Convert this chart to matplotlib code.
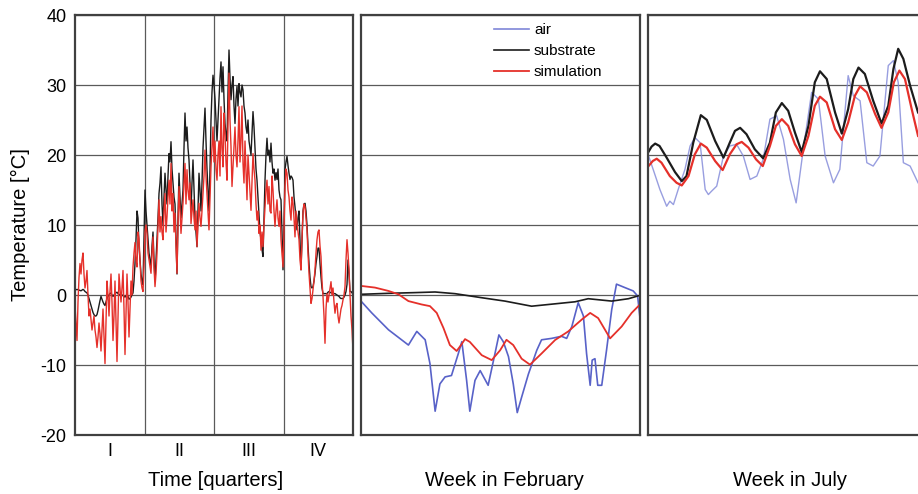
import numpy as np
import matplotlib.pyplot as plt

plt.rcParams['font.family'] = ['Liberation Sans', 'DejaVu Sans']

# --- whole year, substrate and simulated temperature (deg C) ---
substrate_year = [
    0.7, 0.75, 0.8, 0.75, 0.7, 0.65, 0.6, 0.7, 0.8, 0.7,
    0.5, 0.4, 0.3, 0.0, -0.5, -1.0, -1.5, -2.0, -2.5, -2.8,
    -3.0, -3.0, -2.8, -2.2, -1.5, -0.8, -0.2, -0.6, -1.0, -1.3,
    -1.5, -1.0, -0.5, -0.2, 0.0, 0.2, 0.3, 0.0, -0.2, 0.0,
    0.2, 0.3, 0.4, 0.2, 0.0, 0.1, 0.2, 0.0, -0.1, -0.2,
    -0.3, -0.1, 0.1, -0.2, -0.6, -0.5, -0.3, 0.0, 0.3, 2.0,
    4.5, 8.0, 12.0, 11.0, 7.0, 5.0, 3.0, 2.0, 1.5, 8.0,
    15.0, 12.0, 10.0, 8.0, 6.0, 5.0, 4.0, 7.0, 9.0, 5.0,
    2.0, 5.0, 8.0, 11.0, 14.5, 16.0, 18.3, 13.0, 10.0, 14.0,
    17.4, 15.0, 13.0, 17.0, 20.2, 19.0, 21.9, 18.0, 16.0, 14.0,
    13.0, 8.0, 3.0, 11.0, 17.4, 14.0, 11.0, 13.0, 15.0, 21.0,
    26.0, 22.0, 24.0, 21.0, 19.3, 16.0, 12.0, 16.0, 19.3, 15.0,
    11.0, 9.0, 6.9, 12.0, 17.4, 15.0, 12.0, 16.0, 21.0, 24.0,
    26.7, 22.0, 18.0, 15.0, 12.0, 18.0, 25.0, 29.0, 31.4, 30.0,
    28.0, 25.0, 22.0, 25.0, 27.9, 31.0, 33.3, 29.0, 32.6, 28.0,
    24.5, 23.0, 22.0, 29.0, 35.0, 31.0, 27.9, 30.0, 31.2, 27.0,
    24.5, 28.0, 29.8, 27.0, 30.2, 29.0, 28.3, 30.0, 29.3, 27.0,
    26.0, 24.0, 23.1, 25.0, 22.0, 21.0, 20.0, 23.0, 26.2, 24.0,
    21.0, 18.0, 16.4, 14.0, 11.7, 9.0, 7.9, 6.5, 5.5, 11.0,
    16.4, 20.0, 22.4, 20.0, 20.7, 19.0, 21.7, 19.0, 17.4, 18.0,
    16.4, 17.5, 16.5, 18.0, 15.0, 14.0, 13.6, 9.0, 3.6, 10.0,
    17.9, 19.0, 19.8, 18.5, 17.4, 16.5, 17.0, 16.8, 16.4, 14.0,
    12.6, 11.0, 9.3, 11.0, 12.0, 8.0, 3.6, 8.0, 12.0, 13.0,
    13.1, 12.0, 10.0, 7.0, 4.5, 2.5, 1.2, 1.0, 1.2, 2.0,
    3.1, 4.5, 5.5, 6.7, 6.7, 4.5, 2.6, 1.0, 0.2, 0.2,
    0.2, 0.2, 0.2, 0.4, 0.5, 0.4, 0.3, 0.3, 0.3, 0.2,
    0.2, 0.1, 0.0, -0.1, -0.2, -0.4, -0.5, -0.5, -0.5, -0.3,
    0.0, 0.5, 1.5, 5.0, 3.0, 0.5, 0.5, 0.3, 0.2,
]
simulation_year = [
    -1.5, -4.0, -6.5, -1.0, 2.5, 4.5, 3.0, 5.0, 6.0, 3.0,
    1.0, 2.0, 3.5, 0.0, -3.0, -2.0, -3.5, -5.0, -4.0, -3.0,
    -5.0, -6.0, -7.5, -6.0, -4.0, -5.5, -8.0, -5.0, -2.0, -6.0,
    -9.8, -4.0, 2.0, 0.0, -3.0, 0.5, 3.0, -1.0, -6.5, -3.0,
    2.0, -4.0, -9.5, -3.0, 3.0, 1.0, -1.0, 1.0, 3.5, -2.0,
    -8.5, -3.0, 3.0, -1.0, -6.0, -2.0, 2.0, 0.0, 4.0, 6.0,
    7.5, 5.0, 4.0, 9.0, 8.0, 5.0, 2.0, 1.0, 0.5, 4.0,
    9.0, 10.0, 8.8, 6.0, 5.0, 4.0, 3.1, 6.0, 8.3, 4.0,
    1.2, 3.0, 6.0, 10.0, 13.6, 9.0, 11.2, 9.0, 7.9, 12.0,
    14.5, 9.0, 11.2, 14.0, 16.4, 13.0, 18.8, 12.0, 14.5, 9.0,
    11.7, 7.0, 3.1, 10.0, 15.5, 12.0, 8.8, 11.0, 13.1, 16.0,
    18.8, 13.0, 17.9, 15.0, 13.6, 16.0, 10.2, 12.0, 13.6, 11.0,
    9.3, 12.0, 6.9, 10.0, 13.1, 11.0, 9.8, 12.0, 14.5, 17.0,
    20.7, 17.0, 14.5, 12.0, 9.3, 14.0, 18.3, 21.0, 24.0, 19.0,
    22.0, 18.0, 16.4, 20.0, 22.0, 17.0, 26.9, 21.0, 18.3, 26.0,
    23.1, 19.0, 16.4, 24.0, 31.7, 25.0, 21.2, 15.5, 18.3, 21.0,
    24.0, 20.0, 18.3, 22.0, 26.9, 19.0, 22.1, 27.0, 18.8, 16.0,
    22.0, 18.0, 13.6, 20.0, 17.4, 15.0, 12.1, 16.0, 20.2, 18.0,
    16.4, 13.0, 10.7, 12.0, 8.8, 10.0, 6.4, 9.0, 6.9, 10.0,
    12.6, 15.0, 16.4, 13.0, 15.5, 12.0, 11.7, 17.0, 15.0, 12.0,
    9.8, 12.0, 13.6, 11.0, 9.8, 12.0, 7.9, 6.0, 4.0, 9.0,
    15.5, 18.0, 17.4, 15.0, 14.0, 12.0, 10.7, 14.0, 13.1, 11.0,
    8.3, 12.0, 10.2, 9.0, 7.9, 5.0, 3.6, 8.0, 11.7, 13.0,
    12.6, 11.0, 9.3, 6.0, 3.1, 1.0, -1.2, -0.5, 0.7, 2.0,
    3.6, 6.0, 7.9, 9.0, 9.3, 7.0, 5.5, 2.0, -0.2, -3.0,
    -6.9, -2.0, 0.2, -1.0, 0.0, 1.0, 1.9, 0.0, 1.0, -1.0,
    -2.6, -1.5, -1.2, -3.0, -4.0, -3.0, -2.0, -1.5, -0.7, 0.0,
    1.2, 5.0, 7.9, 6.0, 3.6, 0.0, -3.0, -5.0, -7.9,
]
day_of_year = np.linspace(0, 365, len(simulation_year))
quarter_labels = ['I', 'II', 'III', 'IV']

# --- one week in February ---
feb_air_day = [0.00, 0.27, 0.69, 1.19, 1.40, 1.61, 1.73, 1.86, 1.98, 2.11,
               2.27, 2.44, 2.53, 2.65, 2.73, 2.86, 2.99, 3.19, 3.36, 3.46,
               3.57, 3.70, 3.82, 3.92, 4.03, 4.20, 4.41, 4.53, 4.78, 5.03,
               5.16, 5.29, 5.45, 5.58, 5.66, 5.75, 5.80, 5.87, 5.94, 6.04,
               6.16, 6.29, 6.41, 6.62, 6.83, 6.94, 7.00]
feb_air = [-0.87, -2.56, -4.97, -7.15, -5.2, -6.4, -9.8, -16.6, -12.7, -11.7,
           -11.5, -8.4, -6.67, -12.2, -16.6, -12.2, -10.8, -12.9, -8.4, -5.7,
           -6.67, -8.8, -12.7, -16.8, -14.6, -11.3, -7.9, -6.4, -6.2, -5.9,
           -6.2, -4.5, -1.1, -3.0, -8.4, -12.9, -9.3, -9.1, -12.9, -12.9,
           -7.9, -2.1, 1.55, 1.06, 0.58, -0.14, -3.3]
feb_sub_day = [0.00, 0.69, 1.35, 1.86, 2.36, 3.03, 3.61, 4.28, 4.87, 5.37,
               5.70, 6.29, 6.71, 7.00]
feb_substrate = [0.1, 0.24, 0.34, 0.43, 0.19, -0.39, -0.87, -1.6, -1.26, -0.97,
                 -0.53, -0.87, -0.53, -0.05]
feb_sim_day = [0.00, 0.35, 0.69, 0.94, 1.19, 1.52, 1.73, 1.90, 2.07, 2.23,
               2.40, 2.51, 2.61, 2.73, 3.03, 3.28, 3.49, 3.65, 3.82, 4.03,
               4.24, 4.53, 4.87, 5.20, 5.54, 5.75, 5.95, 6.25, 6.54, 6.79, 7.00]
feb_simulation = [1.3, 1.06, 0.58, 0.1, -0.87, -1.35, -1.59, -2.56, -4.73, -7.15,
                  -8.0, -7.15, -6.3, -6.7, -8.6, -9.3, -7.9, -6.4, -7.15, -9.1,
                  -9.95, -8.36, -6.43, -5.2, -3.5, -2.56, -3.3, -6.2, -4.5, -2.56, -1.35]

# --- one week in July ---
jul_air_day = [0.00, 0.13, 0.30, 0.47, 0.55, 0.64, 0.76, 0.93, 1.06, 1.18,
               1.31, 1.44, 1.52, 1.60, 1.73, 1.90, 2.06, 2.23, 2.40, 2.57,
               2.74, 2.90, 3.07, 3.24, 3.41, 3.58, 3.73, 3.91, 4.12, 4.29,
               4.46, 4.67, 4.83, 5.04, 5.17, 5.34, 5.51, 5.67, 5.84, 6.05,
               6.18, 6.30, 6.43, 6.60, 6.80]
jul_air = [20.1, 17.94, 15.07, 12.68, 13.4, 12.92, 15.07, 17.94, 21.29, 22.49,
           21.77, 15.07, 14.35, 14.83, 15.55, 19.86, 21.29, 21.53, 19.86, 16.51,
           16.99, 19.38, 25.12, 25.6, 22.25, 16.51, 13.16, 20.81, 28.95, 27.99,
           19.86, 16.03, 17.94, 31.34, 28.47, 27.75, 18.9, 18.42, 19.86, 32.78,
           33.49, 30.38, 18.9, 18.42, 16.03]
jul_sub_day = [0.00, 0.09, 0.18, 0.29, 0.47, 0.68, 0.85, 0.97, 1.14, 1.33,
               1.48, 1.69, 1.90, 2.06, 2.19, 2.32, 2.48, 2.69, 2.90, 3.07,
               3.22, 3.37, 3.53, 3.70, 3.87, 4.04, 4.20, 4.33, 4.50, 4.71,
               4.88, 5.04, 5.17, 5.30, 5.46, 5.67, 5.88, 6.05, 6.18, 6.30,
               6.43, 6.60, 6.80]
jul_substrate = [20.33, 21.2, 21.63, 21.29, 19.62, 17.56, 16.27, 16.99, 21.77, 25.69,
                 25.02, 22.01, 19.62, 21.77, 23.45, 23.88, 22.97, 20.81, 19.52, 21.77,
                 26.08, 27.42, 26.32, 23.21, 20.43, 24.16, 30.38, 31.96, 30.86, 26.08,
                 23.06, 26.56, 30.86, 32.49, 31.58, 27.75, 24.5, 27.03, 32.3, 35.17,
                 33.73, 29.9, 26.08]
jul_sim_day = [0.00, 0.12, 0.22, 0.34, 0.55, 0.72, 0.85, 1.02, 1.18, 1.33,
               1.48, 1.69, 1.88, 2.06, 2.23, 2.36, 2.53, 2.72, 2.89, 3.07,
               3.22, 3.37, 3.53, 3.70, 3.87, 4.04, 4.20, 4.33, 4.50, 4.71,
               4.88, 5.04, 5.21, 5.34, 5.51, 5.72, 5.88, 6.05, 6.19, 6.33,
               6.47, 6.64, 6.80]
jul_simulation = [18.33, 19.14, 19.47, 18.9, 16.99, 16.03, 15.65, 16.99, 20.1, 21.63,
                  21.05, 19.14, 17.85, 20.1, 21.53, 21.87, 21.05, 19.38, 18.42, 21.29,
                  24.16, 25.12, 24.16, 21.53, 19.86, 22.73, 27.03, 28.33, 27.51, 23.68,
                  22.15, 24.64, 28.47, 29.81, 28.95, 25.84, 23.88, 26.08, 30.38, 32.06,
                  30.86, 26.56, 22.73]

C_AIR = '#5862c8'
C_SUB = '#1c1c1c'
C_SIM = '#e5302a'
FRAME = '#404040'
GRID = '#5a5a5a'

fig = plt.figure(figsize=(9.18, 4.94), dpi=100)
W, H = 918.0, 494.0


def panel(x0, x1):
    ax = fig.add_axes([x0 / W, (H - 435) / H, (x1 - x0) / W, 420 / H])
    ax.set_ylim(-20, 40)
    ax.set_yticks(np.arange(-20, 41, 10))
    ax.grid(axis='y', color=GRID, lw=0.9)
    ax.set_axisbelow(True)
    ax.tick_params(length=0, labelsize=13, pad=6)
    for s in ax.spines.values():
        s.set_color(FRAME)
        s.set_linewidth(1.6)
    return ax


# year
ax1 = panel(75, 353)
ax1.plot(day_of_year, substrate_year, color=C_SUB, lw=1.0)
ax1.plot(day_of_year, simulation_year, color=C_SIM, lw=1.0)
ax1.set_xlim(0, 365)
for q in (1, 2, 3):
    ax1.axvline(q * 365 / 4, color=GRID, lw=0.9, zorder=0)
ax1.set_xticks([(q + 0.5) * 365 / 4 for q in range(4)])
ax1.set_xticklabels(quarter_labels)
ax1.set_yticklabels([str(v) for v in range(-20, 41, 10)])
ax1.set_ylabel('Temperature [°C]', fontsize=14.5, labelpad=8)

# February
ax2 = panel(361, 640)
ax2.plot(feb_air_day, feb_air, color=C_AIR, lw=1.2, label='air')
ax2.plot(feb_sub_day, feb_substrate, color=C_SUB, lw=1.2, label='substrate')
ax2.plot(feb_sim_day, feb_simulation, color=C_SIM, lw=1.3, label='simulation')
ax2.set_xlim(0, 7)
ax2.set_xticks([])
ax2.set_yticklabels([])
leg = ax2.legend(loc='upper left', bbox_to_anchor=(0.475, 0.98), frameon=False,
                 fontsize=11, handlelength=2.3, handletextpad=0.35,
                 labelspacing=0.45, borderpad=0, borderaxespad=0)
leg.get_lines()[0].set_color('#7f86d8')

# July (runs off the right edge)
ax3 = panel(648, 926)
ax3.plot(jul_air_day, jul_air, color='#7f86d8', lw=1.0, alpha=0.8)
ax3.plot(jul_sub_day, jul_substrate, color=C_SUB, lw=1.6)
ax3.plot(jul_sim_day, jul_simulation, color=C_SIM, lw=1.6)
ax3.set_xlim(0, 7)
ax3.set_xticks([])
ax3.set_yticklabels([])

fig.text(216 / W, 1 - 480 / H, 'Time [quarters]', ha='center', va='center', fontsize=14.5)
fig.text(504 / W, 1 - 480 / H, 'Week in February', ha='center', va='center', fontsize=14.5)
fig.text(790 / W, 1 - 480 / H, 'Week in July', ha='center', va='center', fontsize=14.5)

fig.savefig('out.png', dpi=100)
